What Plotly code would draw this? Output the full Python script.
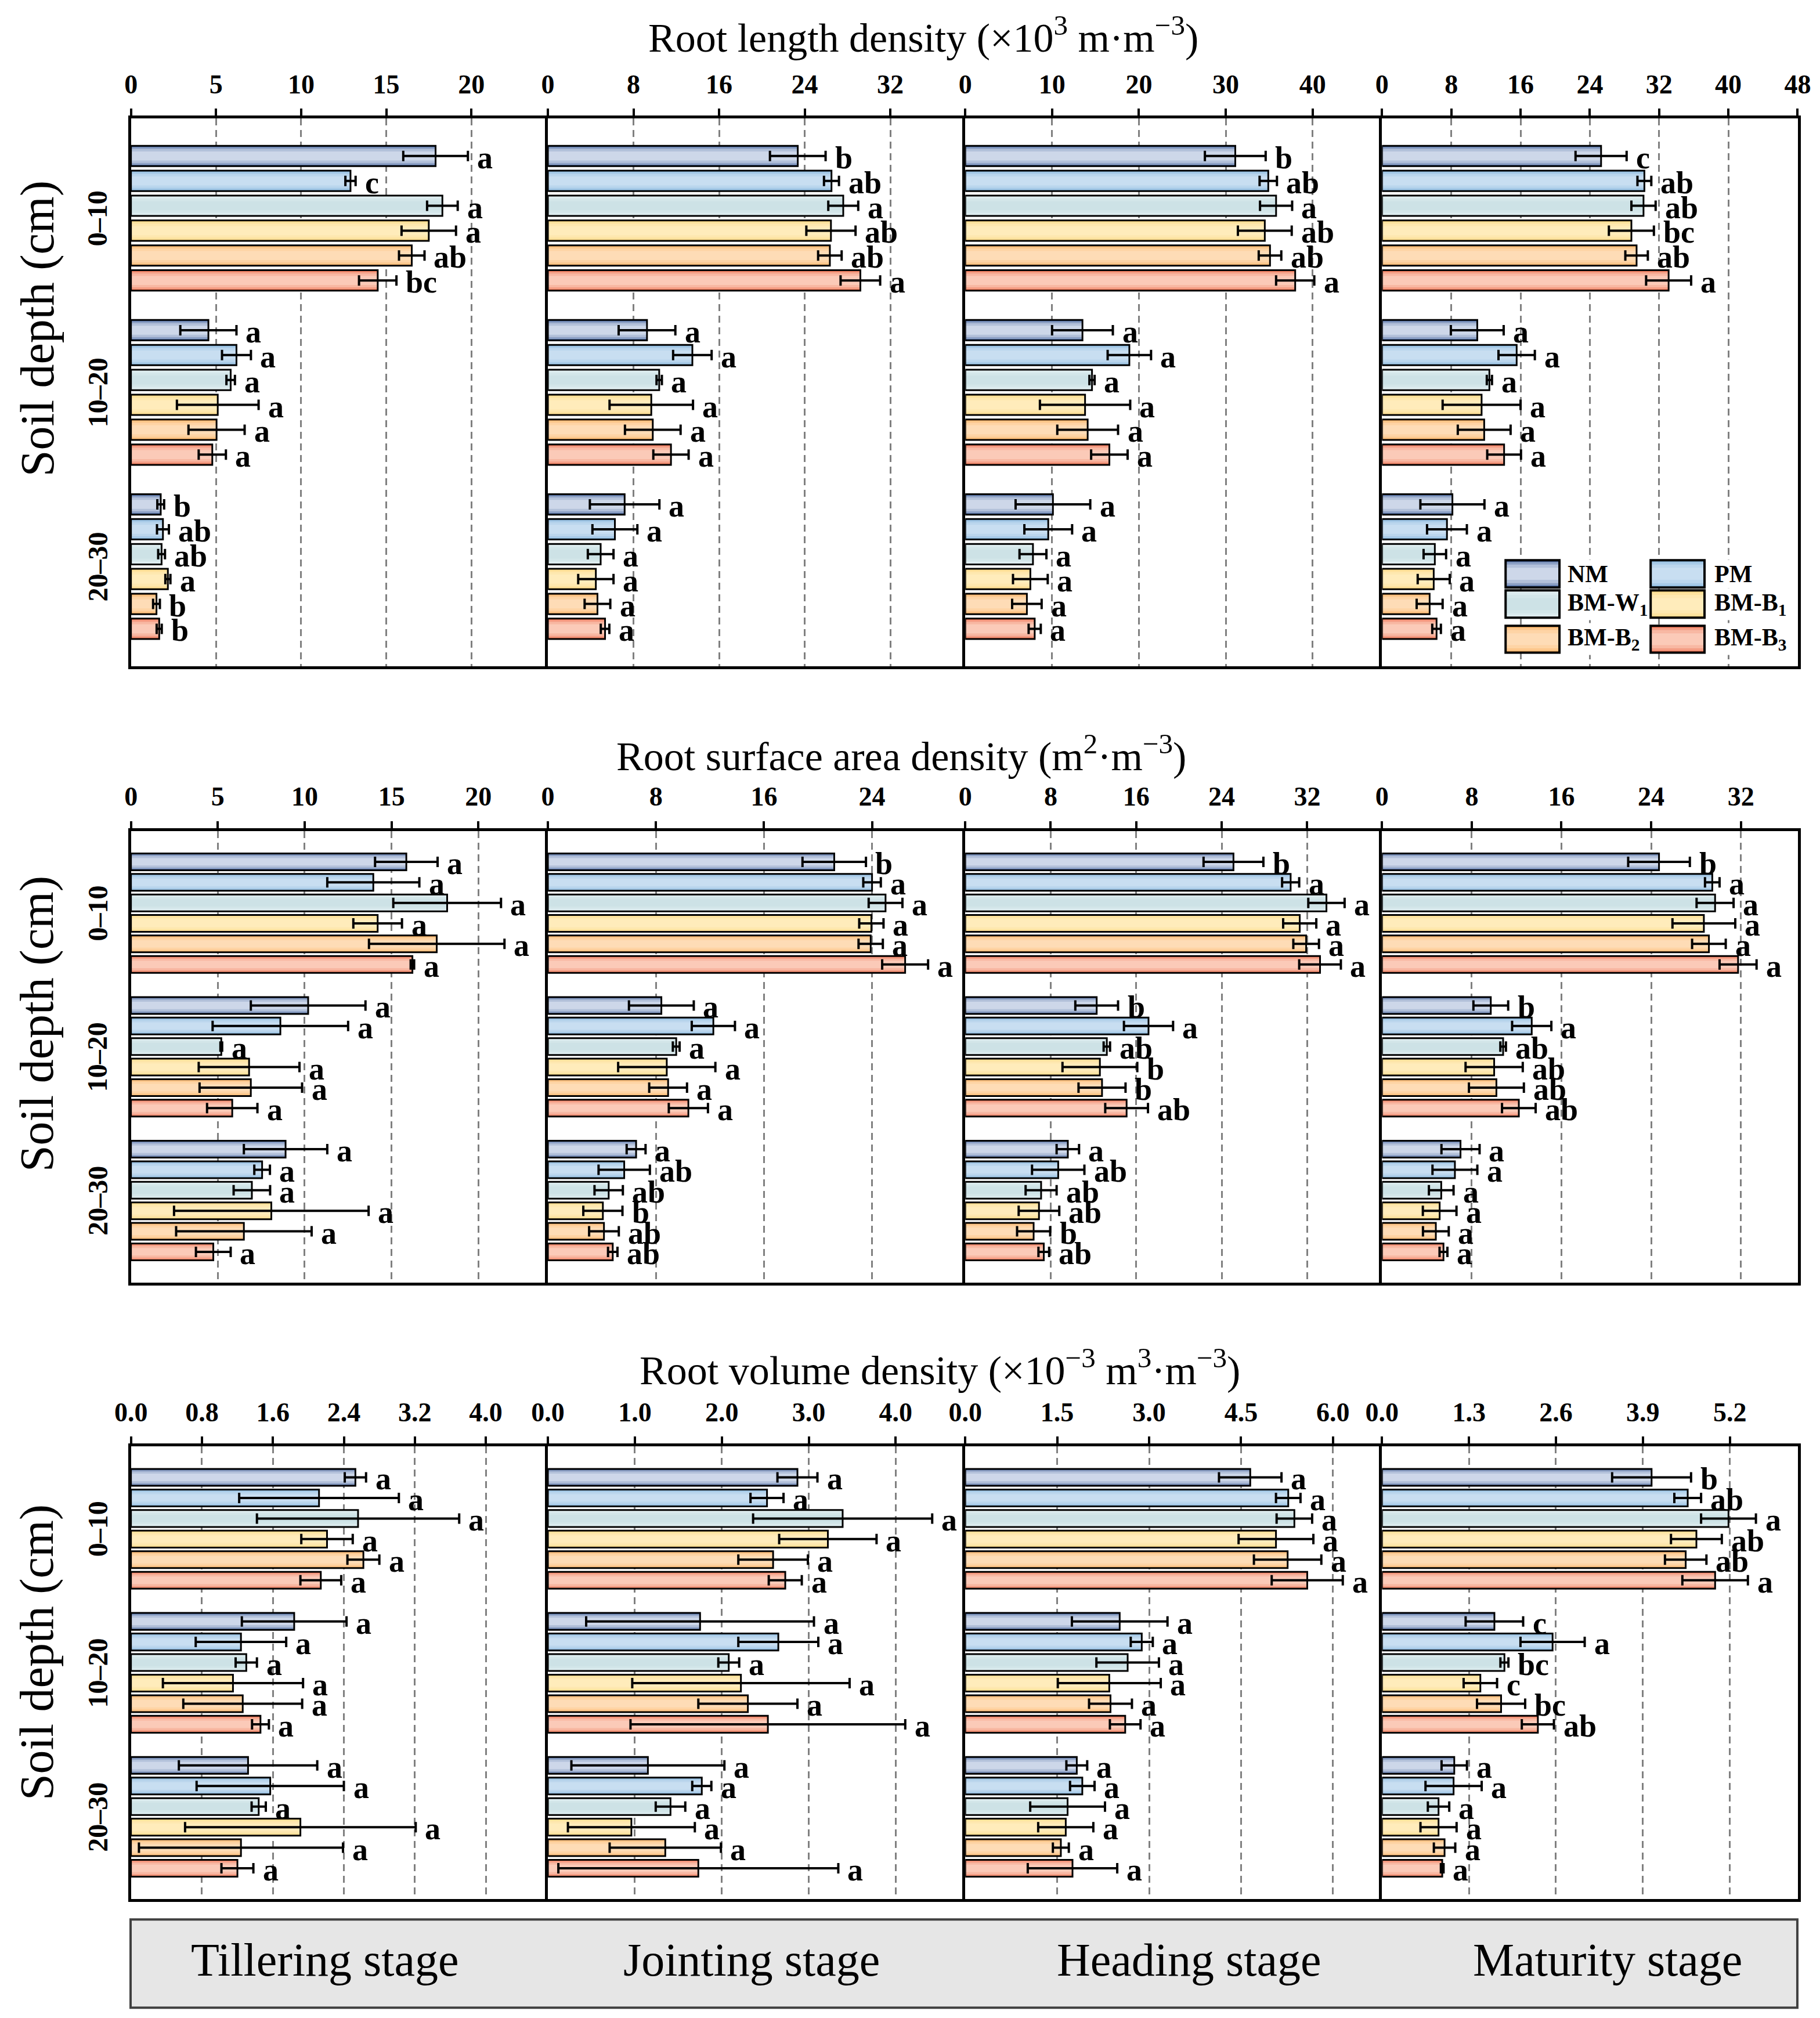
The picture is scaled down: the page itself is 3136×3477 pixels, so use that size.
import plotly.graph_objects as go
from plotly.subplots import make_subplots

# treatments, soil layers and growth stages
TREATMENTS = ['NM', 'PM', 'BM-W1', 'BM-B1', 'BM-B2', 'BM-B3']
LEGEND_LABELS = ['NM', 'PM', 'BM-W<sub>1</sub>', 'BM-B<sub>1</sub>', 'BM-B<sub>2</sub>', 'BM-B<sub>3</sub>']
DEPTHS = ['0\u201310', '10\u201320', '20\u201330']
STAGES = ['Tillering stage', 'Jointing stage', 'Heading stage', 'Maturity stage']

# values are depth-major: 6 treatments for 0-10, then 10-20, then 20-30
# ---- root length density (x10^3 m m-3)
rld_till = [17.9, 12.9, 18.3, 17.5, 16.5, 14.5, 4.55, 6.2, 5.86, 5.1, 5.03, 4.78, 1.75, 1.88, 1.8, 2.17, 1.5, 1.66]
rld_till_se = [1.9, 0.3, 0.9, 1.6, 0.75, 1.1, 1.65, 0.85, 0.25, 2.4, 1.65, 0.8, 0.2, 0.35, 0.2, 0.15, 0.2, 0.15]
rld_till_sig = ['a', 'c', 'a', 'a', 'ab', 'bc', 'a', 'a', 'a', 'a', 'a', 'a', 'b', 'ab', 'ab', 'a', 'b', 'b']

rld_join = [23.35, 26.5, 27.6, 26.45, 26.35, 29.2, 9.26, 13.5, 10.4, 9.66, 9.8, 11.5, 7.17, 6.26, 4.93, 4.48, 4.63, 5.34]
rld_join_se = [2.6, 0.7, 1.4, 2.3, 1.1, 1.85, 2.65, 1.8, 0.25, 3.9, 2.6, 1.65, 3.25, 2.1, 1.2, 1.65, 1.2, 0.4]
rld_join_sig = ['b', 'ab', 'a', 'ab', 'ab', 'a'] + ['a'] * 12

rld_head = [31.1, 34.9, 35.8, 34.5, 35.1, 38.0, 13.5, 18.9, 14.6, 13.8, 14.1, 16.6, 10.1, 9.56, 7.8, 7.5, 7.1, 8.0]
rld_head_se = [3.5, 1.0, 1.85, 3.1, 1.3, 2.2, 3.5, 2.5, 0.3, 5.2, 3.5, 2.1, 4.3, 2.75, 1.55, 2.0, 1.7, 0.7]
rld_head_sig = ['b', 'ab', 'a', 'ab', 'ab', 'a'] + ['a'] * 12

rld_mat = [25.3, 30.3, 30.2, 28.8, 29.4, 33.1, 11.0, 15.55, 12.4, 11.5, 11.8, 14.1, 8.13, 7.5, 6.1, 5.97, 5.5, 6.3]
rld_mat_se = [2.95, 0.8, 1.4, 2.6, 1.3, 2.6, 3.05, 2.1, 0.3, 4.5, 3.05, 1.95, 3.7, 2.3, 1.3, 1.85, 1.5, 0.5]
rld_mat_sig = ['c', 'ab', 'ab', 'bc', 'ab', 'a'] + ['a'] * 12

# ---- root surface area density (m2 m-3)
rsa_till = [15.85, 13.95, 18.2, 14.2, 17.6, 16.2, 10.2, 8.6, 5.2, 6.8, 6.9, 5.83, 8.9, 7.55, 6.96, 8.08, 6.5, 4.74]
rsa_till_se = [1.8, 2.65, 3.1, 1.4, 3.9, 0.1, 3.3, 3.9, 0.05, 2.9, 2.95, 1.45, 2.4, 0.45, 1.05, 5.6, 3.9, 1.0]
rsa_till_sig = ['a'] * 18

rsa_join = [21.2, 24.0, 25.0, 23.95, 23.9, 26.45, 8.4, 12.25, 9.5, 8.8, 8.9, 10.4, 6.53, 5.65, 4.5, 4.07, 4.15, 4.8]
rsa_join_se = [2.35, 0.65, 1.25, 0.9, 0.9, 1.7, 2.4, 1.6, 0.25, 3.6, 1.4, 1.45, 0.7, 1.9, 1.05, 1.45, 1.1, 0.35]
rsa_join_sig = ['b', 'a', 'a', 'a', 'a', 'a'] + ['a'] * 6 + ['a', 'ab', 'ab', 'b', 'ab', 'ab']

rsa_head = [25.1, 30.45, 33.8, 31.3, 31.9, 33.2, 12.3, 17.15, 13.25, 12.6, 12.8, 15.1, 9.6, 8.7, 7.1, 6.9, 6.4, 7.35]
rsa_head_se = [2.8, 0.8, 1.7, 1.55, 1.2, 1.95, 2.0, 2.3, 0.3, 3.5, 2.2, 2.0, 1.05, 2.45, 1.45, 1.9, 1.55, 0.5]
rsa_head_sig = ['b', 'a', 'a', 'a', 'a', 'a', 'b', 'a', 'ab', 'b', 'b', 'ab', 'a', 'ab', 'ab', 'ab', 'b', 'ab']

rsa_mat = [24.7, 29.45, 29.7, 28.7, 29.15, 31.75, 9.7, 13.35, 10.8, 10.0, 10.2, 12.2, 7.0, 6.5, 5.28, 5.14, 4.8, 5.48]
rsa_mat_se = [2.75, 0.65, 1.65, 2.8, 1.5, 1.65, 1.55, 1.75, 0.25, 2.55, 2.45, 1.5, 1.7, 2.0, 1.1, 1.5, 1.15, 0.35]
rsa_mat_sig = ['b', 'a', 'a', 'a', 'a', 'a', 'b', 'a', 'ab', 'ab', 'ab', 'ab'] + ['a'] * 6

# ---- root volume density (x10^-3 m3 m-3)
rvd_till = [2.53, 2.12, 2.56, 2.21, 2.62, 2.14, 1.84, 1.24, 1.30, 1.15, 1.26, 1.46, 1.32, 1.57, 1.44, 1.91, 1.24, 1.20]
rvd_till_se = [0.12, 0.9, 1.14, 0.29, 0.18, 0.23, 0.59, 0.51, 0.12, 0.79, 0.67, 0.095, 0.78, 0.83, 0.08, 1.3, 1.15, 0.18]
rvd_till_sig = ['a'] * 18

rvd_join = [2.87, 2.52, 3.39, 3.22, 2.59, 2.73, 1.75, 2.65, 2.08, 2.22, 2.30, 2.53, 1.15, 1.77, 1.41, 0.96, 1.35, 1.73]
rvd_join_se = [0.23, 0.19, 1.03, 0.56, 0.4, 0.19, 1.31, 0.46, 0.12, 1.25, 0.57, 1.58, 0.88, 0.11, 0.17, 0.73, 0.64, 1.61]
rvd_join_sig = ['a'] * 18

rvd_head = [4.65, 5.27, 5.37, 5.07, 5.26, 5.58, 2.52, 2.88, 2.65, 2.35, 2.37, 2.61, 1.82, 1.91, 1.67, 1.64, 1.56, 1.75]
rvd_head_se = [0.51, 0.2, 0.29, 0.61, 0.55, 0.58, 0.78, 0.18, 0.51, 0.84, 0.35, 0.25, 0.17, 0.2, 0.61, 0.45, 0.13, 0.73]
rvd_head_sig = ['a'] * 18

rvd_mat = [4.03, 4.57, 5.18, 4.70, 4.54, 4.98, 1.68, 2.55, 1.83, 1.47, 1.78, 2.33, 1.08, 1.07, 0.845, 0.845, 0.935, 0.90]
rvd_mat_se = [0.59, 0.2, 0.41, 0.38, 0.31, 0.49, 0.43, 0.48, 0.06, 0.25, 0.36, 0.24, 0.19, 0.42, 0.16, 0.27, 0.16, 0.02]
rvd_mat_sig = ['b', 'ab', 'a', 'ab', 'ab', 'a', 'c', 'a', 'bc', 'c', 'bc', 'ab'] + ['a'] * 6

ROW_TITLES = ['Root length density (\u00d710<sup>3</sup> m\u00b7m<sup>\u22123</sup>)',
              'Root surface area density (m<sup>2</sup>\u00b7m<sup>\u22123</sup>)',
              'Root volume density (\u00d710<sup>\u22123</sup> m<sup>3</sup>\u00b7m<sup>\u22123</sup>)']

panels = [
    [(rld_till, rld_till_se, rld_till_sig), (rld_join, rld_join_se, rld_join_sig),
     (rld_head, rld_head_se, rld_head_sig), (rld_mat, rld_mat_se, rld_mat_sig)],
    [(rsa_till, rsa_till_se, rsa_till_sig), (rsa_join, rsa_join_se, rsa_join_sig),
     (rsa_head, rsa_head_se, rsa_head_sig), (rsa_mat, rsa_mat_se, rsa_mat_sig)],
    [(rvd_till, rvd_till_se, rvd_till_sig), (rvd_join, rvd_join_se, rvd_join_sig),
     (rvd_head, rvd_head_se, rvd_head_sig), (rvd_mat, rvd_mat_se, rvd_mat_sig)],
]

# axis settings: (range max, dtick, tick format)
axis_cfg = [
    [(24.5, 5, 'd'), (39.0, 8, 'd'), (48.0, 10, 'd'), (48.05, 8, 'd')],
    [(24.0, 5, 'd'), (30.9, 8, 'd'), (39.0, 8, 'd'), (37.1, 8, 'd')],
    [(4.70, 0.8, '.1f'), (4.80, 1.0, '.1f'), (6.8, 1.5, '.1f'), (6.22, 1.3, '.1f')],
]

# (edge colour, centre colour) of the gradient fill
COLORS = [('#4a68a0', '#cdd7e9'), ('#86b6dd', '#c8def1'), ('#e9f4f6', '#cde2e6'),
          ('#fcd982', '#ffecbb'), ('#fcb262', '#fedcb6'), ('#ee7050', '#fbcab8')]
LAYERS = [(1.0, 0.0), (0.86, 0.5), (0.68, 0.8), (0.44, 1.0)]
BAR_W = 0.82
FONT = 'Liberation Serif'

# small correction for the page offset of the rendered figure
DX, DY = -0.0022, 0.0025


def mix(c1, c2, t):
    a = [int(c1[i:i + 2], 16) for i in (1, 3, 5)]
    b = [int(c2[i:i + 2], 16) for i in (1, 3, 5)]
    return 'rgb(%d,%d,%d)' % tuple(round(a[k] + (b[k] - a[k]) * t) for k in range(3))


X_DOM = [v + DX for v in [0.0716, 0.3007, 0.5300, 0.7590, 0.9876]]
Y_DOM = [(a + DY, b + DY) for a, b in [(0.6697, 0.9410), (0.3642, 0.5880), (0.0587, 0.2830)]]

fig = make_subplots(rows=3, cols=4, horizontal_spacing=0, vertical_spacing=0.05)
annotations = []

for r in range(3):
    for c in range(4):
        idx = r * 4 + c + 1
        means, errs, sigs = panels[r][c]
        for t, name in enumerate(TREATMENTS):
            ys = [d * 7 + t for d in range(len(DEPTHS))]
            xs = [means[d * 6 + t] for d in range(len(DEPTHS))]
            es = [errs[d * 6 + t] for d in range(len(DEPTHS))]
            edge, centre = COLORS[t]
            for wf, f in LAYERS:
                fig.add_trace(go.Bar(x=xs, y=ys, orientation='h', width=BAR_W * wf,
                                     marker=dict(color=mix(edge, centre, f), line=dict(width=0)),
                                     showlegend=False, hoverinfo='skip'), row=r + 1, col=c + 1)
            fig.add_trace(go.Bar(x=xs, y=ys, orientation='h', width=BAR_W, name=name,
                                 marker=dict(color='rgba(0,0,0,0)', line=dict(color='black', width=3)),
                                 error_x=dict(type='data', array=es, color='black', thickness=4, width=9),
                                 showlegend=False), row=r + 1, col=c + 1)
            for d in range(len(DEPTHS)):
                k = d * 6 + t
                annotations.append(dict(
                    x=means[k] + errs[k], y=d * 7 + t, xref=f'x{idx}', yref=f'y{idx}',
                    text='<b>%s</b>' % sigs[k], showarrow=False, xanchor='left', yanchor='middle',
                    xshift=14, yshift=-3, font=dict(family=FONT, size=54, color='black')))

        rmax, dt, fmt = axis_cfg[r][c]
        fig.update_xaxes(row=r + 1, col=c + 1, domain=[X_DOM[c], X_DOM[c + 1]], side='top',
                         range=[0, rmax], tick0=0, dtick=dt, tickformat=fmt,
                         ticks='outside', ticklen=12, tickwidth=4, tickcolor='black',
                         ticklabelstandoff=8, automargin=False,
                         tickfont=dict(family=FONT, size=46, color='black', weight='bold'),
                         showline=True, mirror=True, linecolor='black', linewidth=5,
                         showgrid=True, gridcolor='#808080', gridwidth=3, griddash='12px,8px',
                         zeroline=False)
        # only the last column draws its right border, the others share the neighbour's left line
        fig.update_yaxes(row=r + 1, col=c + 1, domain=list(Y_DOM[r]), range=[20.5, -1.5],
                         showticklabels=False, ticks='', showgrid=False, zeroline=False,
                         automargin=False, mirror=(c == 3),
                         showline=True, linecolor='black', linewidth=5)

    # depth labels for each row
    for d, lab in enumerate(DEPTHS):
        annotations.append(dict(x=0.0533 + DX, y=d * 7 + 2.5, xref='paper', yref=f'y{r * 4 + 1}',
                                text='<b>%s</b>' % lab, textangle=-90, showarrow=False,
                                xanchor='center', yanchor='middle',
                                font=dict(family=FONT, size=48, color='black')))

row_title_pos = [(0.507, 0.9825), (0.495, 0.6265), (0.516, 0.3222)]
soil_y = [0.837, 0.4925, 0.181]
for r in range(3):
    annotations.append(dict(x=row_title_pos[r][0] + DX, y=row_title_pos[r][1] + DY,
                            xref='paper', yref='paper',
                            text=ROW_TITLES[r], showarrow=False, xanchor='center', yanchor='middle',
                            font=dict(family=FONT, size=70, color='black')))
    annotations.append(dict(x=0.0201 + DX, y=soil_y[r] + DY, xref='paper', yref='paper',
                            text='Soil depth (cm)', textangle=-90, showarrow=False,
                            xanchor='center', yanchor='middle',
                            font=dict(family=FONT, size=82, color='black')))

# stage strip at the bottom
shapes = [dict(type='rect', xref='paper', yref='paper', x0=0.0714 + DX, x1=0.9872 + DX,
               y0=0.0049 + DY, y1=0.0486 + DY,
               fillcolor='#e6e6e6', line=dict(color='#404040', width=4), layer='above')]
stage_x = [0.178, 0.4125, 0.6528, 0.883]
for s, lab in enumerate(STAGES):
    annotations.append(dict(x=stage_x[s] + DX, y=0.0285 + DY, xref='paper', yref='paper', text=lab,
                            showarrow=False, xanchor='center', yanchor='middle',
                            font=dict(family=FONT, size=80, color='black')))

# legend drawn by hand inside the maturity panel of the first row
leg_x = [(0.8269, 0.8565), (0.9066, 0.9362)]
leg_y = [(0.7087, 0.7222), (0.6937, 0.7072), (0.6764, 0.6897)]
leg_tx = [0.8603, 0.9410]
for t, lab in enumerate(LEGEND_LABELS):
    (x0, x1), (y0, y1) = leg_x[t % 2], leg_y[t // 2]
    x0, x1, y0, y1 = x0 + DX, x1 + DX, y0 + DY, y1 + DY
    edge, centre = COLORS[t]
    h = y1 - y0
    for wf, f in LAYERS:
        pad = h * (1 - wf) / 2
        shapes.append(dict(type='rect', xref='paper', yref='paper', x0=x0, x1=x1,
                           y0=y0 + pad, y1=y1 - pad, fillcolor=mix(edge, centre, f),
                           line=dict(width=0), layer='above'))
    shapes.append(dict(type='rect', xref='paper', yref='paper', x0=x0, x1=x1, y0=y0, y1=y1,
                       fillcolor='rgba(0,0,0,0)', line=dict(color='black', width=4), layer='above'))
    annotations.append(dict(x=leg_tx[t % 2] + DX, y=(y0 + y1) / 2, xref='paper', yref='paper',
                            text='<b>%s</b>' % lab, showarrow=False, xanchor='left', yanchor='middle',
                            bgcolor='white', font=dict(family=FONT, size=42, color='black')))

fig.update_layout(width=3136, height=3477, autosize=False, barmode='overlay',
                  margin=dict(l=0, r=0, t=0, b=0, autoexpand=False),
                  paper_bgcolor='white', plot_bgcolor='white',
                  showlegend=False, annotations=annotations, shapes=shapes)

fig.write_html('out.html')
